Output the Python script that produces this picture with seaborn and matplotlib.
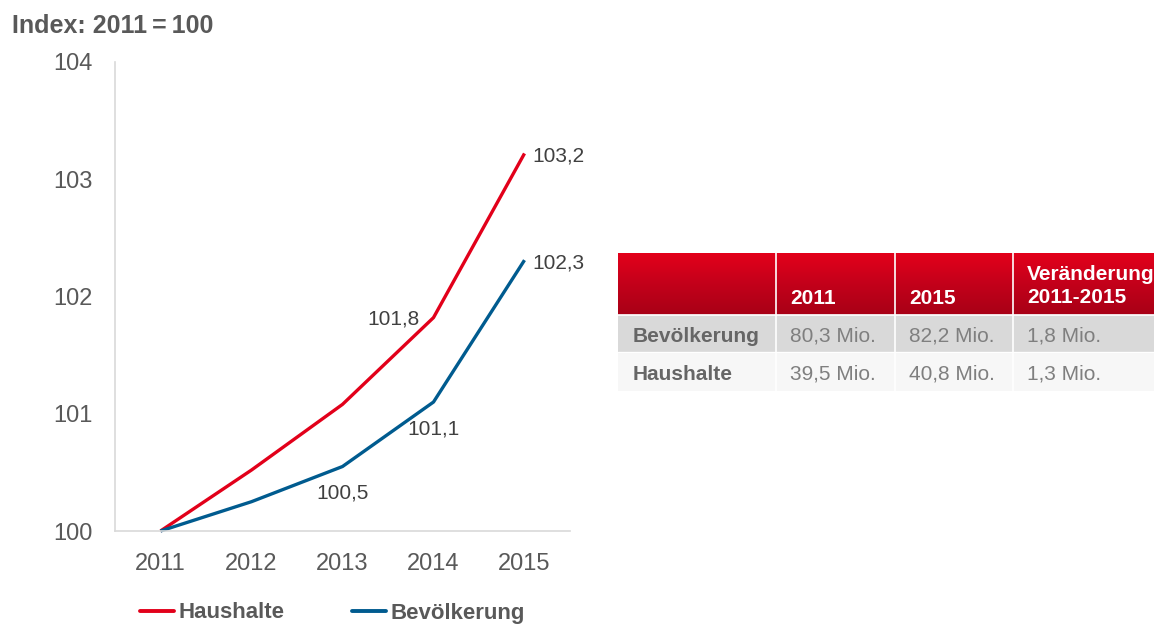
import numpy as np
import pandas as pd
import matplotlib.pyplot as plt
import seaborn as sns
from matplotlib.colors import LinearSegmentedColormap
from matplotlib.lines import Line2D
from matplotlib.patches import Rectangle

# --------------------------
# Data
# --------------------------

years = [2011, 2012, 2013, 2014, 2015]
haushalte = [100.0, 100.52, 101.08, 101.82, 103.22]
bevoelkerung = [100.0, 100.25, 100.55, 101.1, 102.31]

# value labels shown on the lines (year index -> text)
labels_haushalte = {3: "101,8", 4: "103,2"}
labels_bevoelkerung = {2: "100,5", 3: "101,1", 4: "102,3"}

table_header = ["", "2011", "2015", "Veränderung\n2011-2015"]
table_rows = ["Bevölkerung", "Haushalte"]
table_values = [
    ["80,3 Mio.", "82,2 Mio.", "1,8 Mio."],
    ["39,5 Mio.", "40,8 Mio.", "1,3 Mio."],
]

RED = "#e2001a"
BLUE = "#005b8f"
GREY_TXT = "#595959"

# --------------------------
# Style
# --------------------------

sns.set_style("white")
plt.rcParams["font.family"] = ["Liberation Sans", "DejaVu Sans"]

W, H = 1154, 627
fig = plt.figure(figsize=(W / 100, H / 100), dpi=100)

# --------------------------
# Line chart
# --------------------------

ax = fig.add_axes([115 / W, 96 / H, 455 / W, 469 / H])

df = pd.DataFrame({
    "Jahr": years * 2,
    "Index": haushalte + bevoelkerung,
    "Reihe": ["Haushalte"] * len(years) + ["Bevölkerung"] * len(years),
})

sns.lineplot(
    data=df,
    x="Jahr",
    y="Index",
    hue="Reihe",
    palette={"Haushalte": RED, "Bevölkerung": BLUE},
    linewidth=2.4,
    legend=False,
    ax=ax,
)
for line in ax.lines:
    line.set_clip_on(False)
    line.set_solid_capstyle("butt")

ax.set_xlim(2010.5, 2015.5)
ax.set_ylim(100, 104)
ax.set_xticks(years)
ax.set_yticks([100, 101, 102, 103, 104])
ax.set_xlabel("")
ax.set_ylabel("")
ax.tick_params(axis="both", length=0, labelsize=17, labelcolor=GREY_TXT)
ax.tick_params(axis="y", pad=16)
ax.tick_params(axis="x", pad=16)

for side in ["top", "right"]:
    ax.spines[side].set_visible(False)
for side in ["left", "bottom"]:
    ax.spines[side].set_color("#d9d9d9")
    ax.spines[side].set_linewidth(1.2)

# value labels
offsets_haus = {3: ((-10, -1), "right"), 4: ((6, -2), "left")}
offsets_bev = {2: ((0, -19), "center"), 3: ((0, -19.5), "center"), 4: ((6, -2), "left")}

for i, txt in labels_haushalte.items():
    off, ha = offsets_haus[i]
    ax.annotate(txt, (years[i], haushalte[i]), xytext=off, textcoords="offset points",
                ha=ha, va="center", fontsize=15, color="#404040", annotation_clip=False)
for i, txt in labels_bevoelkerung.items():
    off, ha = offsets_bev[i]
    ax.annotate(txt, (years[i], bevoelkerung[i]), xytext=off, textcoords="offset points",
                ha=ha, va="center", fontsize=15, color="#404040", annotation_clip=False)

# title
fig.text(12 / W, 1 - 26 / H, "Index: 2011\u2009=\u2009100", fontsize=18, fontweight="bold",
         color=GREY_TXT, va="center", ha="left")

# legend
handles = [Line2D([], [], color=RED, lw=2.8), Line2D([], [], color=BLUE, lw=2.8)]
fig.legend(
    handles,
    ["Haushalte", "Bevölkerung"],
    loc="center left",
    bbox_to_anchor=(140 / W, 1 - 613 / H),
    ncol=2,
    frameon=False,
    borderpad=0,
    borderaxespad=0,
    handlelength=1.55,
    handletextpad=0.2,
    columnspacing=3.0,
    prop={"weight": "bold", "size": 16},
    labelcolor=GREY_TXT,
)

# --------------------------
# Table
# --------------------------

x0, x1 = 618, 1154
y_head, y_r1, y_r2, y_end = 253, 315, 352, 391
col_edges = [618, 776, 895, 1013]

tab = fig.add_axes([x0 / W, 1 - y_end / H, (x1 - x0) / W, (y_end - y_head) / H])

cmap = LinearSegmentedColormap.from_list("head", ["#e3001b", "#c3001a", "#a80016"])
tab.imshow(np.linspace(0, 1, 64).reshape(-1, 1), extent=[x0, x1, y_r1, y_head],
           cmap=cmap, aspect="auto", origin="upper", zorder=1)
tab.set_xlim(x0, x1)
tab.set_ylim(y_end, y_head)
tab.axis("off")

tab.add_patch(Rectangle((x0, y_r1), x1 - x0, y_r2 - y_r1, color="#d9d9d9", zorder=1))
tab.add_patch(Rectangle((x0, y_r2), x1 - x0, y_end - y_r2, color="#f7f7f7", zorder=1))
for xe in col_edges[1:]:
    tab.plot([xe, xe], [y_head, y_end], color="white", lw=1.2, zorder=2)
tab.plot([x0, x1], [y_r1, y_r1], color="white", lw=1.2, zorder=2)
tab.plot([x0, x1], [y_r2, y_r2], color="white", lw=0.8, zorder=2)

for j, head in enumerate(table_header):
    if not head:
        continue
    if "\n" in head:
        tab.text(col_edges[j] + 14, 286, head, color="white", fontsize=15, fontweight="bold",
                 va="center", ha="left", linespacing=1.3, zorder=3)
    else:
        tab.text(col_edges[j] + 14, 299, head, color="white", fontsize=15, fontweight="bold",
                 va="center", ha="left", zorder=3)

row_centers = [(y_r1 + y_r2) / 2 + 3, (y_r2 + y_end) / 2 + 3]
for r, name in enumerate(table_rows):
    tab.text(col_edges[0] + 15, row_centers[r], name, color="#666666", fontsize=15,
             fontweight="bold", va="center", ha="left", zorder=3)
    for c, val in enumerate(table_values[r]):
        tab.text(col_edges[c + 1] + 14, row_centers[r], val, color="#7f7f7f", fontsize=15,
                 va="center", ha="left", zorder=3)

fig.savefig("out.png", dpi=100)
